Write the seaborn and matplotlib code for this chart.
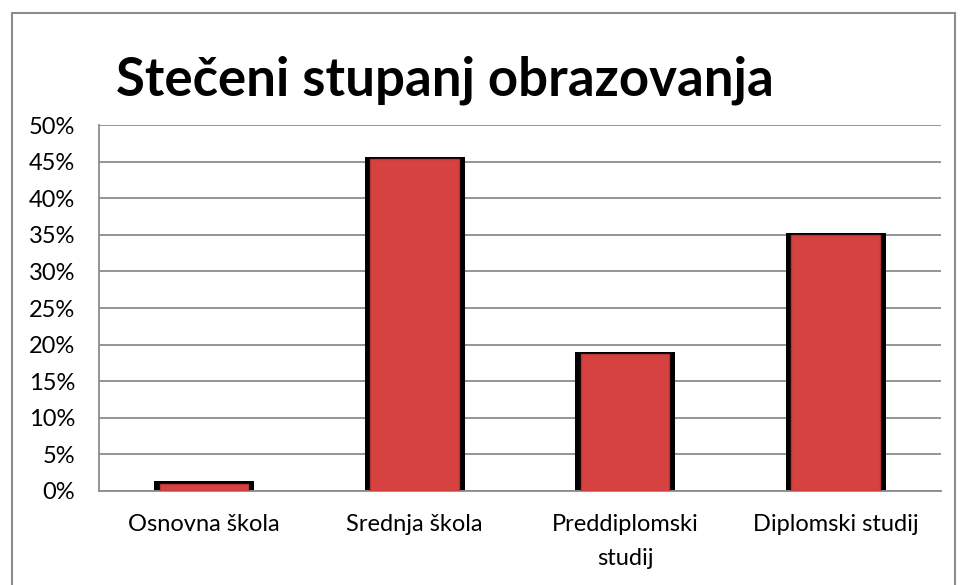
import pandas as pd
import seaborn as sns
import matplotlib.pyplot as plt
from matplotlib.patches import Rectangle
from matplotlib.ticker import FuncFormatter

sns.set_theme(style="white")
plt.rcParams['font.family'] = ['Lato', 'DejaVu Sans']

# data
kategorije = ["Osnovna škola", "Srednja škola", "Preddiplomski\nstudij", "Diplomski studij"]
postotci = [1.0, 45.4, 18.7, 35.0]

data = pd.DataFrame({"kategorija": kategorije, "postotak": postotci})
sjena = data.copy()
sjena["postotak"] = sjena["postotak"] + 0.3

fig = plt.figure(figsize=(9.61, 5.85), dpi=100)
ax = fig.add_axes([0.103, 0.161, 0.876, 0.625])

# black "shadow" behind bars, then the red bars
sns.barplot(data=sjena, x="kategorija", y="postotak", color="black",
            width=0.475, saturation=1, edgecolor="none", ax=ax, zorder=2)
sns.barplot(data=data, x="kategorija", y="postotak", color="#d64240",
            width=0.42, saturation=1, edgecolor="#b53634", linewidth=1,
            ax=ax, zorder=3)

ax.set_ylim(0, 50)
ax.set_yticks(range(0, 51, 5))
ax.yaxis.set_major_formatter(FuncFormatter(lambda v, p: f"{v:.0f}%"))
ax.yaxis.grid(True, color="#8c8c8c", linewidth=1.3)
ax.set_axisbelow(True)
ax.set_xlabel("")
ax.set_ylabel("")
ax.tick_params(axis="both", length=0, labelsize=17, colors="black")
ax.tick_params(axis="x", pad=17)
ax.tick_params(axis="y", pad=17)
for lab in ax.get_xticklabels():
    lab.set_linespacing(1.75)

for s in ["top", "right"]:
    ax.spines[s].set_visible(False)
for s in ["left", "bottom"]:
    ax.spines[s].set_color("#8c8c8c")
    ax.spines[s].set_linewidth(1.3)

fig.text(0.463, 0.863, "Stečeni stupanj obrazovanja", ha="center", va="center",
         fontsize=38, fontweight="bold", color="black")

# outer chart border
fig.patches.append(Rectangle((12 / 961, -0.01), 943 / 961, 1 - 13 / 585 + 0.01,
                             transform=fig.transFigure, fill=False,
                             edgecolor="#8c8c8c", linewidth=1.5))

plt.savefig("out.png", dpi=100)
